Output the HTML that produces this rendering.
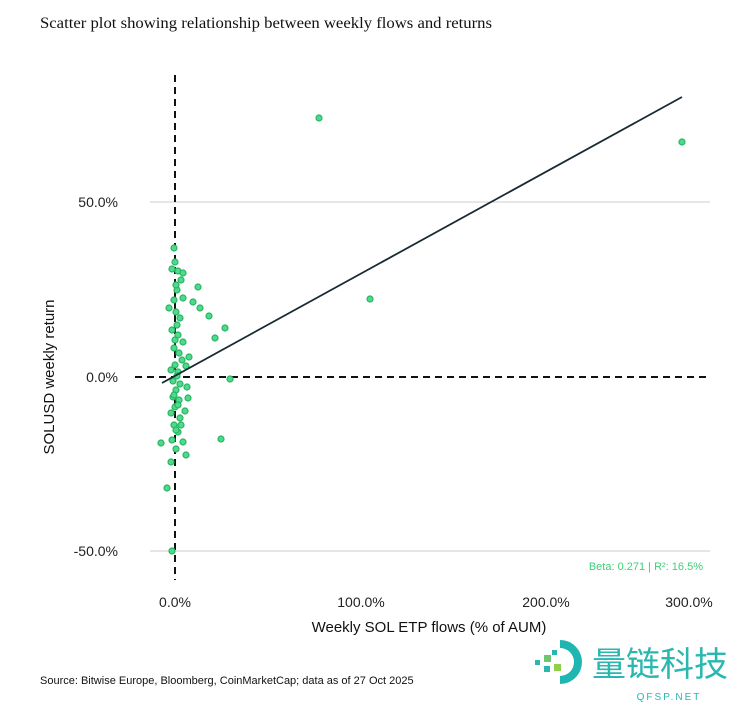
<!DOCTYPE html>
<html><head><meta charset="utf-8"><style>
body{margin:0;background:#fff;width:750px;height:706px;overflow:hidden;font-family:"Liberation Sans",sans-serif}
</style></head><body>
<svg width="750" height="706" xmlns="http://www.w3.org/2000/svg" font-family="Liberation Sans, sans-serif">
<text x="40" y="28" font-size="16" fill="#111" font-family="Liberation Serif, serif" textLength="452" lengthAdjust="spacingAndGlyphs">Scatter plot showing relationship between weekly flows and returns</text>
<line x1="150" y1="202" x2="710" y2="202" stroke="#ccc" stroke-width="1"/>
<line x1="150" y1="551" x2="710" y2="551" stroke="#ccc" stroke-width="1"/>
<line x1="175" y1="75" x2="175" y2="580" stroke="#111" stroke-width="2" stroke-dasharray="7,5"/>
<line x1="135" y1="377" x2="710" y2="377" stroke="#111" stroke-width="2" stroke-dasharray="7,5"/>
<g fill="#4fd98a" stroke="#27b565" stroke-width="1.2">
<circle cx="319" cy="118" r="3"/><circle cx="682" cy="142" r="3"/><circle cx="370" cy="299" r="3"/>
<circle cx="174" cy="248" r="3"/><circle cx="172" cy="269" r="3"/><circle cx="178" cy="271" r="3"/><circle cx="183" cy="273" r="3"/><circle cx="181" cy="280" r="3"/>
<circle cx="198" cy="287" r="3"/><circle cx="177" cy="290" r="3"/><circle cx="183" cy="298" r="3"/><circle cx="193" cy="302" r="3"/><circle cx="200" cy="308" r="3"/>
<circle cx="169" cy="308" r="3"/><circle cx="176" cy="312" r="3"/><circle cx="180" cy="318" r="3"/><circle cx="209" cy="316" r="3"/><circle cx="225" cy="328" r="3"/>
<circle cx="215" cy="338" r="3"/><circle cx="172" cy="330" r="3"/><circle cx="178" cy="335" r="3"/><circle cx="183" cy="342" r="3"/><circle cx="174" cy="348" r="3"/>
<circle cx="179" cy="353" r="3"/><circle cx="182" cy="360" r="3"/><circle cx="175" cy="365" r="3"/><circle cx="189" cy="357" r="3"/><circle cx="171" cy="370" r="3"/>
<circle cx="178" cy="372" r="3"/><circle cx="186" cy="366" r="3"/><circle cx="173" cy="381" r="3"/><circle cx="180" cy="384" r="3"/><circle cx="230" cy="379" r="3"/>
<circle cx="176" cy="390" r="3"/><circle cx="187" cy="387" r="3"/><circle cx="173" cy="397" r="3"/><circle cx="179" cy="400" r="3"/><circle cx="188" cy="398" r="3"/>
<circle cx="175" cy="407" r="3"/><circle cx="171" cy="413" r="3"/><circle cx="180" cy="418" r="3"/><circle cx="185" cy="411" r="3"/><circle cx="174" cy="425" r="3"/>
<circle cx="178" cy="432" r="3"/><circle cx="172" cy="440" r="3"/><circle cx="161" cy="443" r="3"/><circle cx="183" cy="442" r="3"/><circle cx="221" cy="439" r="3"/>
<circle cx="176" cy="449" r="3"/><circle cx="186" cy="455" r="3"/><circle cx="171" cy="462" r="3"/><circle cx="167" cy="488" r="3"/><circle cx="172" cy="551" r="3"/>
<circle cx="175" cy="262" r="3"/><circle cx="176" cy="285" r="3"/><circle cx="174" cy="300" r="3"/><circle cx="177" cy="325" r="3"/><circle cx="175" cy="340" r="3"/>
<circle cx="177" cy="376" r="3"/><circle cx="174" cy="395" r="3"/><circle cx="176" cy="430" r="3"/><circle cx="178" cy="405" r="3"/><circle cx="181" cy="425" r="3"/>
</g>
<line x1="162" y1="383" x2="682" y2="97" stroke="#1a2b33" stroke-width="1.8"/>
<g font-size="14" fill="#222" text-anchor="end">
<text x="118" y="207">50.0%</text><text x="118" y="382">0.0%</text><text x="118" y="556">-50.0%</text>
</g>
<g font-size="14" fill="#222" text-anchor="middle">
<text x="175" y="607">0.0%</text><text x="361" y="607">100.0%</text><text x="546" y="607">200.0%</text><text x="689" y="607">300.0%</text>
</g>
<text x="429" y="632" font-size="15" fill="#111" text-anchor="middle">Weekly SOL ETP flows (% of AUM)</text>
<text transform="translate(54,377) rotate(-90)" font-size="15" fill="#111" text-anchor="middle">SOLUSD weekly return</text>
<text x="703" y="570" font-size="11" fill="#3ecf7a" text-anchor="end">Beta: 0.271 | R²: 16.5%</text>
<text x="40" y="684" font-size="11" fill="#111">Source: Bitwise Europe, Bloomberg, CoinMarketCap; data as of 27 Oct 2025</text>
<g>
<path d="M560 640 A22 22 0 0 1 560 684 L560 676 A14 14 0 0 0 560 648 Z" fill="#1fb5b0"/>
<rect x="544" y="655" width="7" height="7" fill="#6cc870"/><rect x="554" y="664" width="7" height="7" fill="#8fcf4a"/><rect x="544" y="666" width="6" height="6" fill="#2ab7b0"/><rect x="535" y="660" width="5" height="5" fill="#2ab7b0"/><rect x="552" y="650" width="5" height="5" fill="#2ab7b0"/>
<text x="592" y="676" font-size="34" fill="#2ab7b0" font-family="Noto Sans CJK SC, sans-serif">量链科技</text>
<text x="669" y="700" font-size="10" fill="#2ab7b0" text-anchor="middle" letter-spacing="2">QFSP.NET</text>
</g>
</svg>
</body></html>
